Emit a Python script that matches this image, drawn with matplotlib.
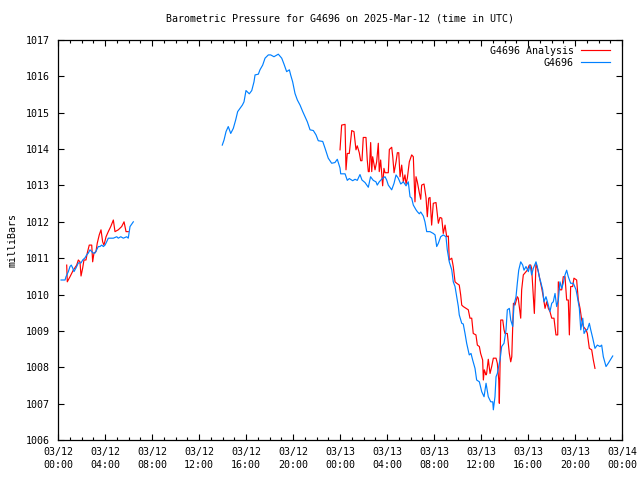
import matplotlib
matplotlib.use("Agg")
import matplotlib.pyplot as plt
import numpy as np

# Hours since 2025-03-12 00:00 UTC, pressure in milliBars
obs_hours_1 = [0.26, 0.60, 0.68, 0.88, 1.02, 1.13, 1.25, 1.36, 1.53, 1.73, 1.96, 2.10, 2.30, 2.44,
               2.58, 2.72, 2.87, 3.00, 3.15, 3.29, 3.43, 3.57, 3.72, 3.86, 4.00, 4.14, 4.28, 4.71,
               5.00, 5.13, 5.34, 5.56, 5.85, 5.98, 6.13, 6.41]
obs_mb_1 = [1010.40, 1010.40, 1010.49, 1010.63, 1010.77, 1010.81, 1010.73, 1010.63, 1010.73, 1010.87,
            1010.87, 1010.95, 1011.01, 1011.09, 1011.14, 1011.23, 1011.18, 1011.14, 1011.14, 1011.23,
            1011.32, 1011.32, 1011.36, 1011.32, 1011.36, 1011.45, 1011.55, 1011.55, 1011.59, 1011.55,
            1011.59, 1011.55, 1011.59, 1011.55, 1011.87, 1012.00]

obs_hours_2 = [13.98, 14.13, 14.30, 14.49, 14.70, 14.92, 15.12, 15.29, 15.49, 15.69, 15.83, 16.00,
               16.28, 16.49, 16.68, 16.77, 17.05, 17.19, 17.42, 17.62, 17.90, 18.10, 18.38, 18.75,
               19.04, 19.23, 19.46, 19.69, 19.80, 19.97, 20.17, 20.37, 20.60, 20.83, 21.02, 21.22,
               21.45, 21.73, 21.96, 22.15, 22.53, 22.72, 23.00, 23.29, 23.57, 23.77, 24.00, 24.06,
               24.43, 24.62, 24.79, 25.08, 25.28, 25.47, 25.70, 25.87, 26.13, 26.41, 26.60, 26.83,
               27.06, 27.17, 27.34, 27.63, 27.83, 27.97, 28.11, 28.40, 28.60, 28.77, 28.96, 29.17,
               29.39, 29.62, 29.81, 29.96, 30.10, 30.24, 30.47, 30.58, 30.75, 30.87, 31.09, 31.23,
               31.38, 31.66, 31.94, 32.09, 32.23, 32.37, 32.57, 32.79, 33.02, 33.13, 33.30, 33.51,
               33.64, 33.79, 33.93, 34.07, 34.15, 34.36, 34.49, 34.64, 34.78, 35.00, 35.15, 35.29,
               35.49, 35.63, 35.86, 36.06, 36.26, 36.43, 36.62, 36.83, 37.00, 37.05, 37.19, 37.28,
               37.39, 37.56, 37.62, 37.76, 37.96, 38.13, 38.24, 38.41, 38.53, 38.70, 38.81, 38.98,
               39.09, 39.21, 39.38, 39.55, 39.66, 39.83, 40.03, 40.17, 40.31, 40.45, 40.68, 40.79,
               40.96, 41.08, 41.25, 41.36, 41.53, 41.73, 41.87, 42.02, 42.15, 42.30, 42.44, 42.58,
               42.72, 42.87, 43.00, 43.15, 43.29, 43.43, 43.63, 43.86, 44.09, 44.20, 44.37, 44.49,
               44.66, 44.77, 44.94, 45.05, 45.22, 45.34, 45.51, 45.70, 45.90, 46.13, 46.27, 46.41,
               46.64, 46.83, 47.21]
obs_mb_2 = [1014.11, 1014.25, 1014.48, 1014.62, 1014.43, 1014.57, 1014.80, 1015.03, 1015.12, 1015.21,
            1015.30, 1015.61, 1015.52, 1015.61, 1015.85, 1016.04, 1016.06, 1016.18, 1016.31, 1016.50,
            1016.59, 1016.59, 1016.54, 1016.61, 1016.50, 1016.34, 1016.13, 1016.18, 1016.04, 1015.85,
            1015.53, 1015.35, 1015.21, 1015.03, 1014.89, 1014.75, 1014.53, 1014.51, 1014.39, 1014.23,
            1014.21, 1014.03, 1013.75, 1013.61, 1013.63, 1013.72, 1013.48, 1013.32, 1013.32, 1013.14,
            1013.19, 1013.13, 1013.17, 1013.14, 1013.30, 1013.15, 1013.08, 1012.95, 1013.24, 1013.14,
            1013.10, 1013.01, 1013.10, 1013.20, 1013.24, 1013.15, 1013.01, 1012.88, 1013.06, 1013.29,
            1013.20, 1013.04, 1013.10, 1012.99, 1013.10, 1012.69, 1012.65, 1012.46, 1012.33, 1012.28,
            1012.22, 1012.27, 1012.16, 1012.00, 1011.73, 1011.73, 1011.68, 1011.64, 1011.32, 1011.41,
            1011.59, 1011.64, 1011.59, 1011.23, 1010.90, 1010.68, 1010.35, 1010.22, 1009.94, 1009.67,
            1009.44, 1009.21, 1009.19, 1008.93, 1008.66, 1008.34, 1008.38, 1008.20, 1007.97, 1007.65,
            1007.60, 1007.33, 1007.19, 1007.56, 1007.19, 1007.05, 1007.05, 1006.83, 1007.19, 1007.74,
            1007.83, 1008.11, 1008.20, 1008.57, 1008.66, 1009.03, 1009.58, 1009.62, 1009.30, 1009.12,
            1009.71, 1009.94, 1010.31, 1010.67, 1010.90, 1010.81, 1010.67, 1010.77, 1010.63, 1010.81,
            1010.54, 1010.72, 1010.90, 1010.77, 1010.49, 1010.35, 1010.13, 1009.80, 1009.94, 1009.71,
            1009.53, 1009.76, 1009.80, 1010.03, 1009.67, 1009.85, 1010.35, 1010.17, 1010.31, 1010.54,
            1010.67, 1010.49, 1010.31, 1010.31, 1010.13, 1009.94, 1009.62, 1009.03, 1009.35, 1008.93,
            1009.03, 1009.03, 1009.21, 1009.03, 1008.80, 1008.52, 1008.61, 1008.57, 1008.61, 1008.29,
            1008.02, 1008.11, 1008.31]

ana_hours_1 = [0.74, 0.79, 1.02, 1.30, 1.59, 1.73, 1.87, 1.96, 2.10, 2.21, 2.38, 2.49, 2.66, 2.87,
               2.95, 3.06, 3.23, 3.34, 3.51, 3.66, 3.80, 3.91, 4.09, 4.28, 4.49, 4.71, 4.85, 5.13,
               5.42, 5.62, 5.79, 5.98]
ana_mb_1 = [1010.81, 1010.35, 1010.49, 1010.67, 1010.81, 1010.95, 1010.90, 1010.51, 1010.73, 1010.95,
            1010.95, 1011.14, 1011.36, 1011.36, 1010.90, 1011.14, 1011.18, 1011.41, 1011.64, 1011.78,
            1011.45, 1011.36, 1011.59, 1011.73, 1011.87, 1012.05, 1011.73, 1011.78, 1011.87, 1012.00,
            1011.73, 1011.73]

ana_hours_2 = [24.00, 24.14, 24.43, 24.51, 24.62, 24.79, 25.00, 25.19, 25.36, 25.47, 25.64, 25.76,
               25.87, 25.98, 26.21, 26.32, 26.41, 26.49, 26.61, 26.70, 26.78, 26.98, 27.12, 27.26,
               27.34, 27.46, 27.63, 27.74, 27.83, 28.11, 28.20, 28.40, 28.49, 28.60, 28.77, 28.88,
               29.00, 29.11, 29.25, 29.39, 29.53, 29.62, 29.73, 29.90, 30.10, 30.24, 30.38, 30.47,
               30.58, 30.75, 30.87, 30.95, 31.15, 31.32, 31.43, 31.55, 31.66, 31.80, 31.94, 32.17,
               32.37, 32.51, 32.66, 32.79, 32.94, 33.08, 33.22, 33.30, 33.51, 33.64, 33.79, 33.93,
               34.15, 34.27, 34.36, 34.49, 34.72, 34.92, 35.06, 35.21, 35.34, 35.57, 35.69, 35.86,
               35.97, 36.14, 36.20, 36.28, 36.43, 36.48, 36.62, 36.77, 36.91, 37.05, 37.28, 37.39,
               37.51, 37.56, 37.62, 37.68, 37.85, 37.96, 38.04, 38.24, 38.41, 38.53, 38.62, 38.76,
               38.89, 39.09, 39.17, 39.26, 39.38, 39.46, 39.60, 39.83, 39.94, 40.11, 40.23, 40.31,
               40.45, 40.54, 40.68, 40.88, 41.02, 41.17, 41.30, 41.45, 41.59, 41.73, 41.87, 42.02,
               42.21, 42.38, 42.53, 42.58, 42.72, 42.87, 43.00, 43.15, 43.29, 43.43, 43.52, 43.63,
               43.80, 43.91, 44.14, 44.28, 44.43, 44.57, 44.71, 44.94, 45.05, 45.22, 45.42, 45.56,
               45.70]
ana_mb_2 = [1013.98, 1014.66, 1014.68, 1013.43, 1013.88, 1013.88, 1014.51, 1014.48, 1013.98, 1014.09,
            1013.90, 1013.68, 1013.68, 1014.32, 1014.32, 1013.70, 1013.38, 1013.38, 1014.18, 1013.38,
            1013.79, 1013.43, 1013.65, 1014.16, 1013.38, 1013.70, 1012.99, 1013.47, 1013.35, 1013.35,
            1013.99, 1014.05, 1013.79, 1013.35, 1013.65, 1013.90, 1013.90, 1013.24, 1013.56, 1013.10,
            1013.29, 1013.04, 1013.20, 1013.65, 1013.84, 1013.79, 1012.55, 1013.24, 1013.10, 1012.80,
            1012.62, 1013.01, 1013.04, 1012.67, 1012.14, 1012.65, 1012.67, 1011.91, 1012.51, 1012.53,
            1011.96, 1012.12, 1012.10, 1011.68, 1011.91, 1011.59, 1011.61, 1010.95, 1011.00, 1010.77,
            1010.35, 1010.31, 1010.26, 1009.99, 1009.71, 1009.67, 1009.62, 1009.58, 1009.35, 1009.35,
            1008.93, 1008.89, 1008.61, 1008.57, 1008.38, 1008.20, 1007.65, 1007.93, 1007.79, 1007.83,
            1008.22, 1007.83, 1008.02, 1008.25, 1008.25, 1008.11, 1007.65, 1007.01, 1008.02, 1009.30,
            1009.30, 1009.03, 1008.93, 1008.93, 1008.38, 1008.15, 1008.29, 1009.76, 1009.71, 1009.94,
            1009.90, 1009.67, 1009.35, 1010.13, 1010.54, 1010.63, 1010.67, 1010.81, 1010.81, 1010.72,
            1009.99, 1009.48, 1010.86, 1010.63, 1010.40, 1010.17, 1009.94, 1009.62, 1009.80, 1009.62,
            1009.53, 1009.35, 1009.35, 1008.89, 1008.89, 1010.35, 1010.13, 1010.13, 1010.49, 1010.49,
            1009.85, 1009.85, 1008.89, 1010.22, 1010.22, 1010.45, 1010.40, 1009.85, 1009.62, 1009.30,
            1009.12, 1009.03, 1008.93, 1008.52, 1008.48, 1008.20, 1007.97]

tick_hours = [0, 4, 8, 12, 16, 20, 24, 28, 32, 36, 40, 44, 48]
tick_labels = ["03/12\n00:00", "03/12\n04:00", "03/12\n08:00", "03/12\n12:00", "03/12\n16:00",
               "03/12\n20:00", "03/13\n00:00", "03/13\n04:00", "03/13\n08:00", "03/13\n12:00",
               "03/13\n16:00", "03/13\n20:00", "03/14\n00:00"]
y_ticks = [1006, 1007, 1008, 1009, 1010, 1011, 1012, 1013, 1014, 1015, 1016, 1017]

title = "Barometric Pressure for G4696 on 2025-Mar-12 (time in UTC)"
red = "#ff0000"
blue = "#0080ff"

plt.rcParams['font.family'] = ['DejaVu Sans Mono']
fs = 7.2

fig = plt.figure(figsize=(6.4, 4.8), dpi=100)
ax = fig.add_axes([58/640, 40/480, 564/640, 400/480])

lw = 0.85
l_red, = ax.plot(ana_hours_1, ana_mb_1, color=red, lw=lw, label="G4696 Analysis")
ax.plot(ana_hours_2, ana_mb_2, color=red, lw=lw)
l_blue, = ax.plot(obs_hours_1, obs_mb_1, color=blue, lw=lw, label="G4696")
ax.plot(obs_hours_2, obs_mb_2, color=blue, lw=lw)

ax.set_xlim(0, 48)
ax.set_ylim(1006, 1017)
ax.set_xticks(tick_hours)
ax.set_xticklabels(tick_labels, fontsize=fs, linespacing=1.4)
ax.set_xticks(np.arange(0, 49, 1), minor=True)
ax.set_yticks(y_ticks)
ax.set_yticklabels([str(v) for v in y_ticks], fontsize=fs)
ax.tick_params(which='both', direction='in', top=True, right=True, width=0.8, color='black')
ax.tick_params(which='major', length=4.5, pad=5)
ax.tick_params(which='minor', length=2.5)
ax.tick_params(axis='y', pad=6)
for s in ax.spines.values():
    s.set_linewidth(0.9)
    s.set_color('black')

ax.set_ylabel("milliBars", fontsize=fs)
ax.yaxis.set_label_coords(-40/564, 0.5)
ax.text(0.5, 1 + 21/400, title, fontsize=fs, ha='center', va='center', transform=ax.transAxes)

leg = ax.legend(handles=[l_red, l_blue], loc='upper right', frameon=False, markerfirst=False,
                fontsize=fs, handlelength=2.9, handletextpad=0.7, labelspacing=0.2,
                borderaxespad=0.3, borderpad=0.4, bbox_to_anchor=(1 - 5/564, 1 + 1/400))
for t in leg.get_texts():
    t.set_ha('right')

fig.savefig("out.png", dpi=100)
